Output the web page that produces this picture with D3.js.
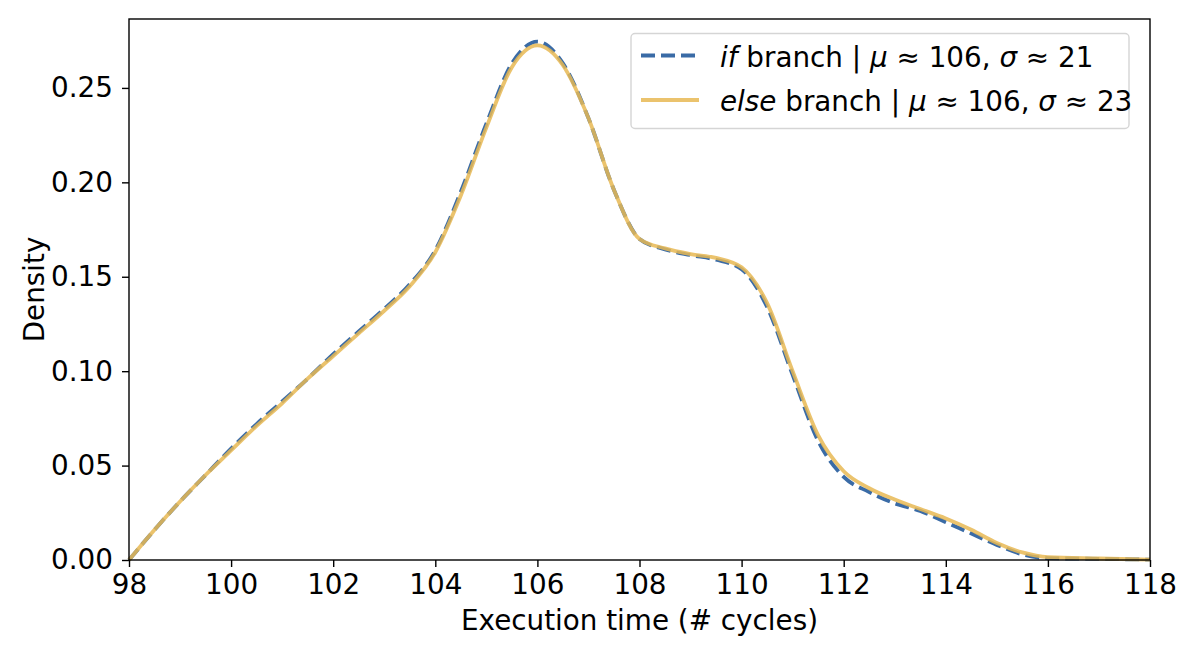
<!DOCTYPE html>
<html>
<head>
<meta charset="utf-8">
<script src="https://cdn.jsdelivr.net/npm/d3@7"></script>
<style>
  body { margin: 0; background: #fff; }
  svg text { font-family: "DejaVu Sans", sans-serif; fill: #000; }
</style>
</head>
<body>
<svg id="chart" width="1196" height="654"></svg>
<script>
// execution time grid (cycles)
var cycles = [98, 98.5, 99, 99.5, 100, 100.5, 101, 101.5, 102, 102.5, 103, 103.5, 104, 104.5,
  105, 105.5, 106, 106.5, 107, 107.5, 108, 108.5, 109, 109.5, 110, 110.5, 111, 111.5,
  112, 112.5, 113, 113.5, 114, 114.5, 115, 115.5, 116, 117, 118];

// density
var ifDensity = [0.000, 0.016, 0.031, 0.045, 0.059, 0.072, 0.084, 0.096, 0.109, 0.121, 0.133, 0.146,
  0.164, 0.195, 0.231, 0.263, 0.2745, 0.263, 0.234, 0.196, 0.170, 0.1645, 0.1615, 0.159,
  0.154, 0.134, 0.098, 0.063, 0.044, 0.036, 0.030, 0.026, 0.020, 0.014, 0.008, 0.003,
  0.001, 0.0006, 0.0002];
var elseDensity = [0.000, 0.016, 0.031, 0.045, 0.058, 0.071, 0.083, 0.096, 0.108, 0.120, 0.132, 0.145,
  0.163, 0.193, 0.229, 0.261, 0.2725, 0.262, 0.234, 0.196, 0.170, 0.165, 0.162, 0.160,
  0.155, 0.136, 0.100, 0.066, 0.047, 0.038, 0.032, 0.027, 0.022, 0.016, 0.009, 0.004,
  0.0015, 0.0008, 0.0002];

var xTicks = [98, 100, 102, 104, 106, 108, 110, 112, 114, 116, 118];
var yTicks = [0, 0.05, 0.10, 0.15, 0.20, 0.25];

var svg = d3.select("#chart"),
    margin = {top: 19, right: 46, bottom: 94, left: 129},
    width = 1196 - margin.left - margin.right,
    height = 654 - margin.top - margin.bottom;

var fs = 27.8;
var blue = "#3a6ba6", gold = "#e8b853";

var x = d3.scaleLinear().domain([98, 118]).range([0, width]);
var y = d3.scaleLinear().domain([0, 0.2865]).range([height, 0]);

var g = svg.append("g").attr("transform", "translate(" + margin.left + "," + margin.top + ")");

var line = d3.line()
    .x(function(d) { return x(d[0]); })
    .y(function(d) { return y(d[1]); })
    .curve(d3.curveMonotoneX);

g.append("path")
    .datum(cycles.map(function(c, i) { return [c, ifDensity[i]]; }))
    .attr("d", line)
    .attr("fill", "none")
    .attr("stroke", blue)
    .attr("stroke-width", 3.8)
    .attr("stroke-dasharray", "14,6");

g.append("path")
    .datum(cycles.map(function(c, i) { return [c, elseDensity[i]]; }))
    .attr("d", line)
    .attr("fill", "none")
    .attr("stroke", gold)
    .attr("stroke-opacity", 0.85)
    .attr("stroke-width", 3.8);

// axes
var xAxis = g.append("g")
    .attr("transform", "translate(0," + height + ")")
    .call(d3.axisBottom(x).tickValues(xTicks).tickSize(7).tickPadding(7).tickFormat(d3.format("d")));
var yAxis = g.append("g")
    .call(d3.axisLeft(y).tickValues(yTicks).tickSize(7).tickPadding(9).tickFormat(d3.format(".2f")));

[xAxis, yAxis].forEach(function(a) {
  a.select(".domain").remove();
  a.selectAll("line").attr("stroke", "#000").attr("stroke-width", 1.4);
  a.selectAll("text").style("font-size", fs + "px").attr("fill", "#000");
});

// frame
g.append("rect")
    .attr("width", width).attr("height", height)
    .attr("fill", "none").attr("stroke", "#000").attr("stroke-width", 1.4);

// labels
svg.append("text")
    .attr("x", margin.left + width / 2).attr("y", 629.5)
    .attr("text-anchor", "middle")
    .style("font-size", fs + "px")
    .text("Execution time (# cycles)");

svg.append("text")
    .attr("transform", "translate(43.5," + (margin.top + height / 2) + ") rotate(-90)")
    .attr("text-anchor", "middle")
    .style("font-size", fs + "px")
    .text("Density");

// legend
var legend = svg.append("g");
legend.append("rect")
    .attr("x", 631).attr("y", 33.5).attr("width", 498).attr("height", 95)
    .attr("rx", 4).attr("fill", "#fff").attr("fill-opacity", 0.8)
    .attr("stroke", "#d5d5d5").attr("stroke-width", 1.4);

var entries = [
  {name: "if", mu: "106", sigma: "21", color: blue, dash: "14,6", opacity: 1},
  {name: "else", mu: "106", sigma: "23", color: gold, dash: null, opacity: 0.85}
];

entries.forEach(function(e, i) {
  var cy = 55.5 + i * 44.5;
  legend.append("line")
      .attr("x1", 641).attr("x2", 699).attr("y1", cy).attr("y2", cy)
      .attr("stroke", e.color).attr("stroke-width", 3.8)
      .attr("stroke-opacity", e.opacity)
      .attr("stroke-dasharray", e.dash);
  var t = legend.append("text")
      .attr("x", 720).attr("y", cy + 11)
      .style("font-size", fs + "px")
      .attr("xml:space", "preserve");
  t.append("tspan").style("font-style", "italic").text(e.name);
  t.append("tspan").text(" branch | ");
  t.append("tspan").style("font-style", "italic").text("\u03bc");
  t.append("tspan").text(" \u2248 " + e.mu + ", ");
  t.append("tspan").style("font-style", "italic").text("\u03c3");
  t.append("tspan").text(" \u2248 " + e.sigma);
});
</script>
</body>
</html>
